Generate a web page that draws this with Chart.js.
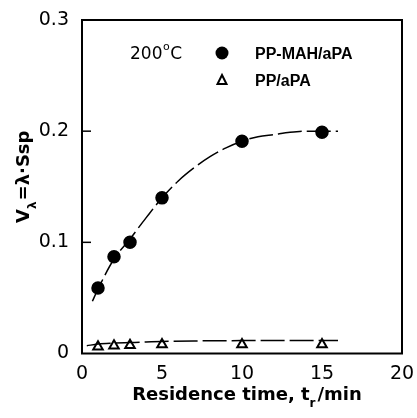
<!DOCTYPE html>
<html>
<head>
<meta charset="utf-8">
<script src="https://cdn.jsdelivr.net/npm/chart.js@4.4.1/dist/chart.umd.min.js"></script>
<style>
  html, body { margin: 0; padding: 0; background: #fff; }
</style>
</head>
<body>
<canvas id="residenceChart" width="417" height="418"></canvas>
<script>
// measured points
const timeMin = [1, 2, 3, 5, 10, 15];
const ppMahApa = [0.059, 0.087, 0.1, 0.14, 0.191, 0.199];
const ppApa = [0.006, 0.007, 0.0075, 0.008, 0.008, 0.008];

// fitted curves
const fitMahX = [0.65, 1, 2, 3, 4, 5, 6, 7, 8, 9, 10, 11, 12, 13, 14, 15, 16];
const fitMahY = [0.047, 0.058, 0.085, 0.103, 0.122, 0.14, 0.155, 0.167, 0.177, 0.185, 0.191, 0.195, 0.197, 0.199, 0.2, 0.2, 0.2];
const fitPpX = [0.3, 1, 2, 3, 4, 5, 7, 10, 13, 16];
const fitPpY = [0.007, 0.0085, 0.0093, 0.0098, 0.0103, 0.0108, 0.0113, 0.0116, 0.0117, 0.0117];

const xTicks = [0, 5, 10, 15, 20];
const yTicks = [0, 0.1, 0.2, 0.3];

const pts = (xs, ys) => xs.map((x, i) => ({ x: x, y: ys[i] }));

const tickFont = { family: 'DejaVu Sans', size: 19 };

// frame, inner ticks, axis titles, legend
const decorations = {
  id: 'decorations',
  afterDraw(chart) {
    const { ctx, chartArea: a, scales } = chart;
    ctx.save();
    ctx.strokeStyle = '#000';
    ctx.lineWidth = 2;
    ctx.strokeRect(a.left, a.top, a.right - a.left, a.bottom - a.top);

    // short inward ticks on y axis
    ctx.lineWidth = 1.5;
    yTicks.slice(1, 3).forEach(v => {
      const py = scales.y.getPixelForValue(v);
      ctx.beginPath();
      ctx.moveTo(a.left, py);
      ctx.lineTo(a.left + 9, py);
      ctx.stroke();
    });

    ctx.fillStyle = '#000';
    ctx.textBaseline = 'alphabetic';
    ctx.textAlign = 'left';

    // x title: Residence time, t_r /min
    const p1 = 'Residence time, t';
    const p2 = '/min';
    ctx.font = 'bold 18px "DejaVu Sans"';
    const w1 = ctx.measureText(p1).width;
    const w2 = ctx.measureText(p2).width;
    ctx.font = 'bold 12px "DejaVu Sans"';
    const wr = ctx.measureText('r').width + 2;
    const total = w1 + wr + w2;
    let tx = (a.left + a.right) / 2 + 5 - total / 2;
    const ty = 400;
    ctx.font = 'bold 18px "DejaVu Sans"';
    ctx.fillText(p1, tx, ty);
    ctx.font = 'bold 12px "DejaVu Sans"';
    ctx.fillText('r', tx + w1, ty + 7);
    ctx.font = 'bold 18px "DejaVu Sans"';
    ctx.fillText(p2, tx + w1 + wr, ty);

    // y title: V_λ=λ·Ssp (rotated)
    ctx.save();
    ctx.translate(29, (a.top + a.bottom) / 2 - 10);
    ctx.rotate(-Math.PI / 2);
    ctx.font = 'bold 18px "DejaVu Sans"';
    const wv = ctx.measureText('V').width;
    const rest = '=λ·Ssp';
    const wrest = ctx.measureText(rest).width;
    ctx.font = 'bold 12px "DejaVu Sans"';
    const wl = ctx.measureText('λ').width + 1;
    let sx = -(wv + wl + wrest) / 2;
    ctx.font = 'bold 18px "DejaVu Sans"';
    ctx.fillText('V', sx, 0);
    ctx.font = 'bold 12px "DejaVu Sans"';
    ctx.fillText('λ', sx + wv, 7);
    ctx.font = 'bold 18px "DejaVu Sans"';
    ctx.fillText(rest, sx + wv + wl, 0);
    ctx.restore();

    // legend inside plot
    ctx.font = '17px "DejaVu Sans"';
    const lx = a.left + 48;
    ctx.fillText('200', lx, 59);
    const w200 = ctx.measureText('200').width;
    ctx.font = '11px "DejaVu Sans"';
    ctx.fillText('o', lx + w200 + 0.5, 50);
    const wo = ctx.measureText('o').width;
    ctx.font = '17px "DejaVu Sans"';
    ctx.fillText('C', lx + w200 + wo + 1, 59);

    ctx.beginPath();
    ctx.arc(222, 53, 6.5, 0, Math.PI * 2);
    ctx.fill();
    ctx.beginPath();
    ctx.moveTo(222, 75);
    ctx.lineTo(226.5, 84);
    ctx.lineTo(217.5, 84);
    ctx.closePath();
    ctx.lineWidth = 2;
    ctx.stroke();

    ctx.font = 'bold 16px "Liberation Sans"';
    ctx.fillText('PP-MAH/aPA', 255, 59);
    ctx.fillText('PP/aPA', 255, 86);
    ctx.restore();
  }
};

const ctx = document.getElementById('residenceChart').getContext('2d');

const residenceChart = new Chart(ctx, {
  type: 'scatter',
  data: {
    datasets: [
      {
        label: 'fit PP-MAH/aPA',
        data: pts(fitMahX, fitMahY),
        showLine: true,
        borderColor: '#000',
        borderWidth: 1.5,
        borderDash: [24, 5],
        pointRadius: 0,
        cubicInterpolationMode: 'monotone'
      },
      {
        label: 'fit PP/aPA',
        data: pts(fitPpX, fitPpY),
        showLine: true,
        borderColor: '#000',
        borderWidth: 1.5,
        borderDash: [24, 5],
        pointRadius: 0,
        cubicInterpolationMode: 'monotone'
      },
      {
        label: 'PP-MAH/aPA',
        data: pts(timeMin, ppMahApa),
        pointStyle: 'circle',
        pointRadius: 7.5,
        backgroundColor: '#000',
        borderColor: '#fff',
        borderWidth: 1.5
      },
      {
        label: 'PP/aPA',
        data: pts(timeMin, ppApa),
        pointStyle: 'triangle',
        pointRadius: 5.5,
        backgroundColor: '#fff',
        borderColor: '#000',
        borderWidth: 2
      }
    ]
  },
  plugins: [decorations],
  options: {
    responsive: false,
    animation: false,
    devicePixelRatio: 1,
    layout: { padding: { top: 20, right: 15, left: 0, bottom: 0 } },
    plugins: {
      legend: { display: false },
      tooltip: { enabled: false }
    },
    scales: {
      x: {
        type: 'linear',
        min: xTicks[0],
        max: xTicks[xTicks.length - 1],
        afterBuildTicks: s => { s.ticks = xTicks.map(v => ({ value: v })); },
        afterFit: s => { s.height = 64.5; s.paddingLeft = 0; s.paddingRight = 0; },
        grid: { display: false, drawTicks: false },
        border: { display: false },
        ticks: { color: '#000', font: tickFont, padding: 9, maxRotation: 0 }
      },
      y: {
        type: 'linear',
        min: yTicks[0],
        max: yTicks[yTicks.length - 1],
        afterBuildTicks: s => { s.ticks = yTicks.map(v => ({ value: v })); },
        afterFit: s => { s.width = 82; s.paddingTop = 0; s.paddingBottom = 0; },
        grid: { display: false, drawTicks: false },
        border: { display: false },
        ticks: {
          color: '#000',
          font: tickFont,
          padding: 13,
          callback: v => (v === 0 ? '0' : v.toFixed(1))
        }
      }
    }
  }
});
</script>
</body>
</html>
